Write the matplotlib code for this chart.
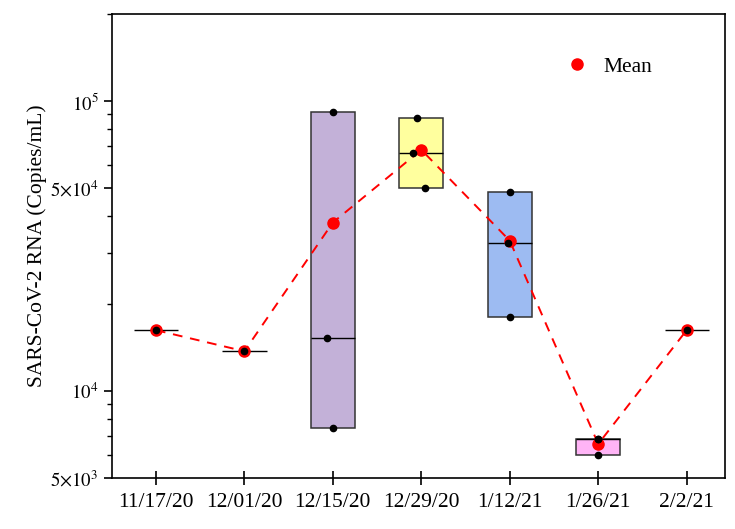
import numpy as np
import matplotlib
matplotlib.use('Agg')
from matplotlib import pyplot as plt
from matplotlib.ticker import FixedLocator, LogLocator, NullFormatter

plt.rcParams['font.family'] = ['Liberation Serif', 'DejaVu Serif']
plt.rcParams['mathtext.fontset'] = 'stix'

# Sampling dates and measured RNA concentrations (copies/mL)
dates = ['11/17/20', '12/01/20', '12/15/20', '12/29/20', '1/12/21', '1/26/21', '2/2/21']
samples = [
    [16200],
    [13700],
    [91700, 15200, 7460],
    [87400, 66300, 50200],
    [48700, 32300, 18000],
    [6840, 6840, 5980],
    [16200],
]
# small horizontal scatter of the raw points (as in the original)
jitter = [
    [0],
    [0],
    [0, -0.07, 0],
    [-0.05, -0.09, 0.04],
    [0, -0.02, 0],
    [0, 0, 0],
    [0],
]
box_colors = [None, None, '#C3B1D8', '#FFFF9E', '#9DBBF2', '#FFB4F6', None]

x = np.arange(len(dates))
means = [np.mean(s) for s in samples]
medians = [np.median(s) for s in samples]

fig = plt.figure(figsize=(7.35, 5.29), dpi=100)
ax = fig.add_axes([0.152, 0.0964, 0.834, 0.877])

w = 0.5
for i, s in enumerate(samples):
    lo, hi = min(s), max(s)
    if hi > lo:
        ax.bar(x[i], hi - lo, bottom=lo, width=w, color=box_colors[i],
               edgecolor='#333333', linewidth=1.1, zorder=2)
    ax.hlines(medians[i], x[i] - w / 2, x[i] + w / 2, color='black', linewidth=1.0, zorder=3)

# mean line
ax.plot(x, means, '--', color='red', linewidth=1.4, dashes=(5, 4), zorder=4)
ax.plot(x, means, 'o', color='red', markersize=8, zorder=5, label='Mean')

# raw points
for i, s in enumerate(samples):
    ax.plot(x[i] + np.array(jitter[i]), s, 'o', color='black', markersize=4.5, zorder=6)

ax.set_yscale('log')
ax.set_ylim(5000, 200000)
ax.set_xlim(-0.5, 6.43)
ax.yaxis.set_major_locator(FixedLocator([5000, 10000, 50000, 100000]))
ax.set_yticklabels([r'$5{\times}10^3$', r'$10^4$', r'$5{\times}10^4$', r'$10^5$'])
ax.yaxis.set_minor_locator(LogLocator(base=10, subs=np.arange(2, 10)))
ax.yaxis.set_minor_formatter(NullFormatter())
ax.set_xticks(x)
ax.set_xticklabels(dates)

ax.tick_params(axis='y', which='major', direction='out', length=6, width=1.2, labelsize=13.5)
ax.tick_params(axis='y', which='minor', direction='out', length=3.5, width=1.0)
ax.tick_params(axis='x', direction='inout', length=10, width=1.2, labelsize=15.5, pad=6)
for sp in ax.spines.values():
    sp.set_linewidth(1.2)

ax.set_ylabel('SARS-CoV-2 RNA (Copies/mL)', fontsize=15.5, labelpad=2)

ax.legend(loc='upper left', bbox_to_anchor=(0.692, 0.95), frameon=False, fontsize=15.5,
          handletextpad=0.25)

plt.savefig('out.png', dpi=100)
